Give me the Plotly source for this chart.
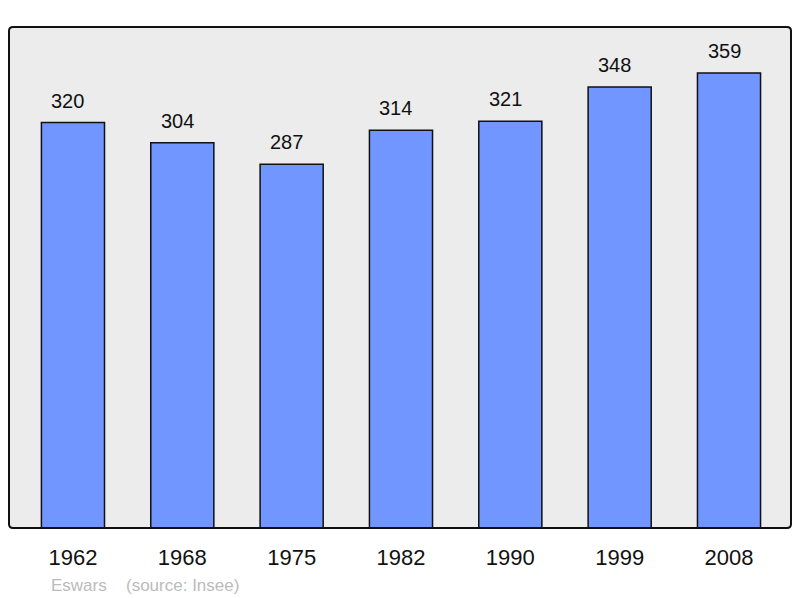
import plotly.graph_objects as go

years = ["1962", "1968", "1975", "1982", "1990", "1999", "2008"]
population = [320, 304, 287, 314, 321, 348, 359]
commune = "Eswars"
source = "(source: Insee)"

xpos = list(range(len(years)))

# page body has an 8px default margin; compensate
W, H = 792, 590
ML, MR, MT, MB = 1, 9, 19, 70
PW, PH = W - ML - MR, H - MT - MB

fig = go.Figure()
fig.add_trace(go.Bar(
    x=xpos, y=population, width=0.577,
    marker=dict(color="#7196ff", line=dict(color="#111111", width=1.5)),
    hoverinfo="skip",
))

for xi, v in zip(xpos, population):
    fig.add_annotation(x=xi, y=v, text=str(v), showarrow=False,
                       yanchor="bottom", yshift=9, xshift=-5,
                       font=dict(family="Liberation Sans, Arial", size=20, color="#111111"))

fig.add_annotation(xref="paper", yref="paper", x=(49 - 9) / PW, y=-(585 - 528) / PH,
                   xanchor="left", yanchor="middle", showarrow=False, text=commune,
                   font=dict(family="Liberation Sans, Arial", size=17, color="#bbbbbb"))
fig.add_annotation(xref="paper", yref="paper", x=(124 - 9) / PW, y=-(585 - 528) / PH,
                   xanchor="left", yanchor="middle", showarrow=False, text=source,
                   font=dict(family="Liberation Sans, Arial", size=17, color="#bbbbbb"))

# rounded frame around plot area
rx, ry = 4 / PW, 4 / PH
path = (f"M {rx},0 L {1-rx},0 Q 1,0 1,{ry} L 1,{1-ry} Q 1,1 {1-rx},1 "
        f"L {rx},1 Q 0,1 0,{1-ry} L 0,{ry} Q 0,0 {rx},0 Z")
fig.add_shape(type="path", xref="paper", yref="paper", path=path,
              line=dict(color="#111111", width=2), fillcolor="rgba(0,0,0,0)", layer="above")

fig.update_layout(
    width=W, height=H,
    margin=dict(l=ML, r=MR, t=MT, b=MB),
    paper_bgcolor="white", plot_bgcolor="#ececec",
    showlegend=False,
    font=dict(family="Liberation Sans, Arial", color="#111111"),
    xaxis=dict(range=[-0.585, 6.567], tickmode="array", tickvals=xpos, ticktext=years,
               tickfont=dict(size=22), ticks="outside", ticklen=10, tickcolor="rgba(0,0,0,0)",
               showgrid=False, zeroline=False, fixedrange=True),
    yaxis=dict(range=[0, 395.4], visible=False, showgrid=False, zeroline=False, fixedrange=True),
)

fig.write_html("out.html", config={"displayModeBar": False})
